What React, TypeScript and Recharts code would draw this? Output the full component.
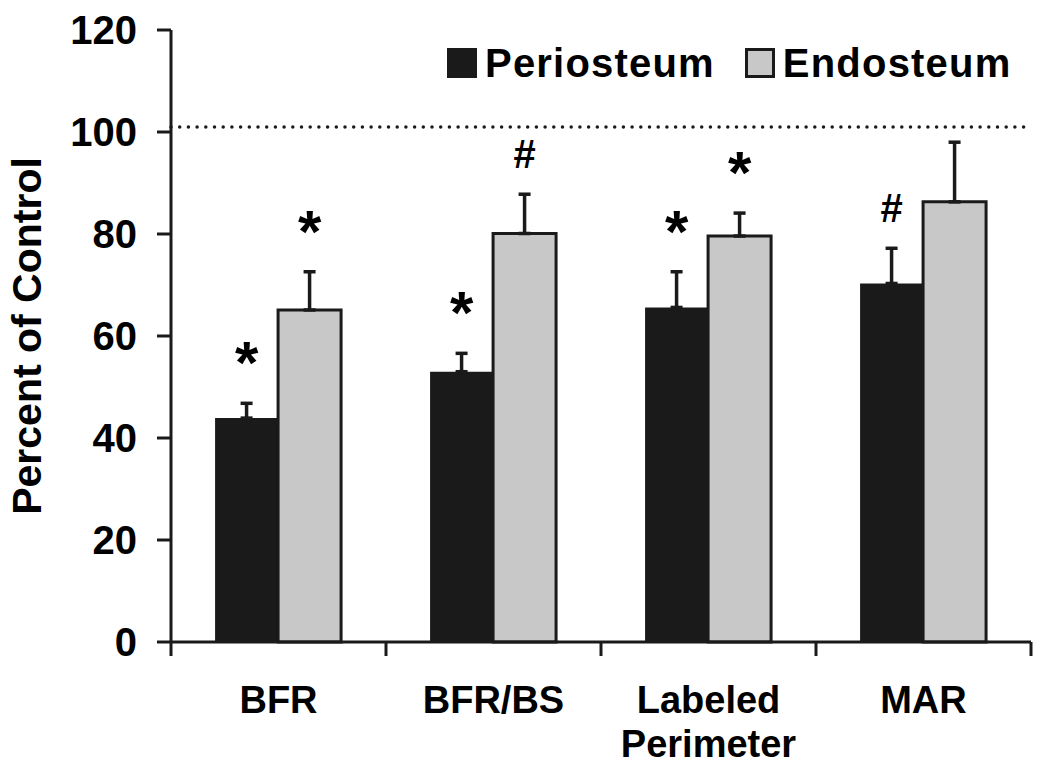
import {
  Bar,
  BarChart,
  ErrorBar,
  LabelList,
  ReferenceLine,
  XAxis,
  YAxis,
} from "recharts";

const categories = ["BFR", "BFR/BS", "Labeled Perimeter", "MAR"];
const periosteum = [43.9, 53.0, 65.6, 70.3];
const periosteumErr = [2.9, 3.6, 7.0, 6.9];
const endosteum = [65.1, 80.1, 79.6, 86.3];
const endosteumErr = [7.5, 7.7, 4.5, 11.7];
const periosteumMarks = ["*", "*", "*", "#"];
const endosteumMarks = ["*", "#", "*", ""];
const yTicks = [0, 20, 40, 60, 80, 100, 120];
const controlLevel = 101;

const FONT = "'Liberation Sans', Arial, Helvetica, sans-serif";
const INK = "#1a1a1a";

const data = categories.map((name, i) => ({
  name,
  perio: periosteum[i],
  perioErr: [0, periosteumErr[i]],
  perioMark: periosteumMarks[i],
  endo: endosteum[i],
  endoErr: [0, endosteumErr[i]],
  endoMark: endosteumMarks[i],
}));

// category tick: tick marks sit on the band edges, the name under the centre
function CategoryTick(props: any) {
  const { x, y, payload, index, width, visibleTicksCount } = props;
  const half = payload.offset || width / (2 * visibleTicksCount);
  const lines = String(payload.value).split(" ");
  const isLast = index === visibleTicksCount - 1;
  return (
    <g>
      <line x1={x - half} y1={y} x2={x - half} y2={y + 14} stroke={INK} strokeWidth={3} />
      {isLast && (
        <line x1={x + half} y1={y} x2={x + half} y2={y + 14} stroke={INK} strokeWidth={3} />
      )}
      <text
        x={x}
        y={y}
        textAnchor="middle"
        fontFamily={FONT}
        fontWeight="bold"
        fontSize={38}
        fill="#000"
      >
        {lines.map((line, i) => (
          <tspan key={line} x={x} dy={i === 0 ? 71 : 44}>
            {line}
          </tspan>
        ))}
      </text>
    </g>
  );
}

// significance marks sit above the top of each error bar
function markRenderer(values: number[], errs: number[]) {
  return (props: any) => {
    const vb = props.viewBox ?? props;
    const { x, y, width, height } = vb;
    const i = props.index;
    const mark = props.value;
    if (!mark) return null;
    const pxPerUnit = height / values[i];
    const capY = y - errs[i] * pxPerUnit;
    const isStar = mark === "*";
    return (
      <text
        x={x + width / 2}
        y={capY - (isStar ? 20 : 26)}
        textAnchor="middle"
        fontFamily={FONT}
        fontWeight="bold"
        fontSize={isStar ? 60 : 40}
        fill="#000"
      >
        {mark}
      </text>
    );
  };
}

function LegendBox() {
  const item = (label: string, fill: string, border: boolean) => (
    <div style={{ display: "flex", alignItems: "center", marginRight: 30 }}>
      <div
        style={{
          width: border ? 24 : 30,
          height: border ? 24 : 30,
          background: fill,
          border: border ? `3px solid ${INK}` : "none",
          marginRight: 8,
        }}
      />
      <span
        style={{
          fontFamily: FONT,
          fontWeight: "bold",
          fontSize: 40,
          lineHeight: "40px",
          letterSpacing: 1.2,
          color: "#000",
        }}
      >
        {label}
      </span>
    </div>
  );
  return (
    <div style={{ position: "absolute", top: 43, left: 447, display: "flex" }}>
      {item("Periosteum", INK, false)}
      {item("Endosteum", "#c8c8c8", true)}
    </div>
  );
}

function YLabel() {
  return (
    <text
      x={41}
      y={336}
      transform="rotate(-90, 41, 336)"
      textAnchor="middle"
      fontFamily={FONT}
      fontWeight="bold"
      fontSize={41}
      fill="#000"
    >
      Percent of Control
    </text>
  );
}

export default function App() {
  return (
    <div style={{ position: "relative", width: 1050, height: 767, background: "#fff" }}>
      <style>{"body{margin:0}"}</style>
      <BarChart
        width={1050}
        height={767}
        data={data}
        margin={{ top: 30, right: 19, bottom: 0, left: 0 }}
        barCategoryGap="20.5%"
        barGap={0}
      >
        <XAxis
          dataKey="name"
          interval={0}
          tickSize={0}
          tickMargin={0}
          tickLine={false}
          height={125}
          axisLine={{ stroke: INK, strokeWidth: 3 }}
          tick={<CategoryTick />}
        />
        <YAxis
          width={171}
          domain={[0, 120]}
          ticks={yTicks}
          interval={0}
          tickSize={14}
          tickMargin={20}
          axisLine={{ stroke: INK, strokeWidth: 3 }}
          tickLine={{ stroke: INK, strokeWidth: 3 }}
          tick={{
            fontFamily: FONT,
            fontWeight: "bold",
            fontSize: 40,
            fill: "#000",
          }}
          label={<YLabel />}
        />
        <ReferenceLine
          y={controlLevel}
          stroke={INK}
          strokeWidth={3.5}
          strokeDasharray="0 8.7"
          strokeLinecap="round"
        />
        <Bar dataKey="perio" name="Periosteum" fill={INK} isAnimationActive={false}>
          <ErrorBar dataKey="perioErr" width={6} stroke={INK} strokeWidth={3.5} />
          <LabelList
            dataKey="perioMark"
            content={markRenderer(periosteum, periosteumErr)}
          />
        </Bar>
        <Bar
          dataKey="endo"
          name="Endosteum"
          fill="#c8c8c8"
          stroke={INK}
          strokeWidth={3}
          isAnimationActive={false}
        >
          <ErrorBar dataKey="endoErr" width={6} stroke={INK} strokeWidth={3.5} />
          <LabelList
            dataKey="endoMark"
            content={markRenderer(endosteum, endosteumErr)}
          />
        </Bar>
      </BarChart>
      <LegendBox />
    </div>
  );
}
